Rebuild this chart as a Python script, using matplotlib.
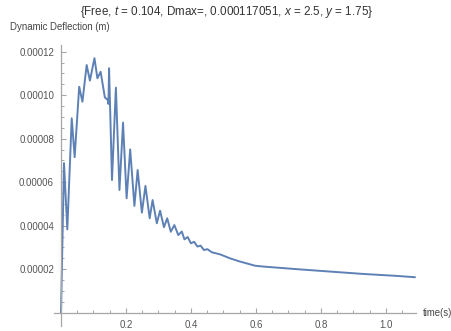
import numpy as np
import matplotlib
matplotlib.use("Agg")
import matplotlib.pyplot as plt
from matplotlib.ticker import FixedLocator, FormatStrFormatter

plt.rcParams['font.family'] = ['Liberation Sans', 'DejaVu Sans']
plt.rcParams['mathtext.fontset'] = 'custom'
plt.rcParams['mathtext.it'] = 'Liberation Sans:italic'
plt.rcParams['mathtext.rm'] = 'Liberation Sans'

# values
time_s = [0.0, 0.0092, 0.0194, 0.033, 0.042, 0.056, 0.066, 0.079, 0.089, 0.103,
          0.112, 0.122, 0.135, 0.144, 0.146, 0.148, 0.157, 0.169, 0.180, 0.191,
          0.202, 0.213, 0.226, 0.236, 0.249, 0.260, 0.273, 0.282, 0.295, 0.305,
          0.317, 0.327, 0.338, 0.349, 0.361, 0.372, 0.380, 0.390, 0.400, 0.410,
          0.420, 0.430, 0.440, 0.451, 0.464, 0.490, 0.520, 0.551, 0.573, 0.597,
          0.623, 0.726, 0.828, 0.931, 1.034, 1.090]
deflection = [0.0, 6.88e-5, 3.83e-5, 8.94e-5, 7.15e-5, 1.039e-4, 9.70e-5, 1.139e-4, 1.067e-4, 1.1705e-4,
              1.078e-4, 1.108e-4, 9.90e-5, 9.78e-5, 9.60e-5, 1.124e-4, 6.10e-5, 1.035e-4, 5.64e-5, 8.74e-5,
              5.26e-5, 7.51e-5, 4.91e-5, 6.56e-5, 4.60e-5, 5.83e-5, 4.34e-5, 5.18e-5, 4.11e-5, 4.69e-5,
              3.93e-5, 4.34e-5, 3.72e-5, 4.03e-5, 3.57e-5, 3.73e-5, 3.37e-5, 3.48e-5, 3.19e-5, 3.26e-5,
              3.04e-5, 3.08e-5, 2.88e-5, 2.92e-5, 2.78e-5, 2.68e-5, 2.50e-5, 2.35e-5, 2.26e-5, 2.16e-5,
              2.12e-5, 2.00e-5, 1.89e-5, 1.78e-5, 1.69e-5, 1.63e-5]

x_ticks = [0.2, 0.4, 0.6, 0.8, 1.0]
y_ticks = [0.00002, 0.00004, 0.00006, 0.00008, 0.00010, 0.00012]

axis_gray = '#a6a6a6'
label_gray = '#555555'

fig = plt.figure(figsize=(4.51, 3.31), dpi=100)
ax = fig.add_axes([0.1197, 0.016, 0.802, 0.8474])

ax.plot(time_s, deflection, color='#5E81B5', lw=1.4,
        solid_joinstyle='round', solid_capstyle='round')

ax.set_xlim(-0.0216, 1.092)
ax.set_ylim(-6e-6, 1.23e-4)

# Mathematica-like crossing axes
for side in ['top', 'right']:
    ax.spines[side].set_visible(False)
ax.spines['left'].set_position(('data', 0))
ax.spines['bottom'].set_position(('data', 0))
for side in ['left', 'bottom']:
    ax.spines[side].set_color(axis_gray)
    ax.spines[side].set_linewidth(0.9)

ax.xaxis.set_major_locator(FixedLocator(x_ticks))
ax.xaxis.set_minor_locator(FixedLocator([v for v in np.arange(0.05, 1.09, 0.05)
                                         if min(abs(v - t) for t in x_ticks) > 1e-6]))
ax.yaxis.set_major_locator(FixedLocator(y_ticks))
ax.yaxis.set_minor_locator(FixedLocator([v for v in np.arange(5e-6, 1.23e-4, 5e-6)
                                         if min(abs(v - t) for t in y_ticks) > 1e-9]))
ax.xaxis.set_major_formatter(FormatStrFormatter('%.1f'))
ax.yaxis.set_major_formatter(FormatStrFormatter('%.5f'))

ax.tick_params(which='major', direction='in', length=3.6, width=0.8, color=axis_gray,
               labelsize=7, labelcolor=label_gray, pad=5)
ax.tick_params(which='minor', direction='in', length=2.2, width=0.7, color=axis_gray)

fig.text(0.502, 0.965,
         r'{Free, $t$ = 0.104, Dmax=, 0.000117051, $x$ = 2.5, $y$ = 1.75}',
         ha='center', va='center', fontsize=8.4, color='#333333')
fig.text(10 / 451, 1 - 27 / 331, 'Dynamic Deflection (m)', ha='left', va='center',
         fontsize=6.9, color='#444444')
fig.text(423 / 451, 1 - 312.7 / 331, 'time(s)', ha='left', va='center',
         fontsize=6.9, color='#444444')

fig.savefig('out.png', dpi=100)
